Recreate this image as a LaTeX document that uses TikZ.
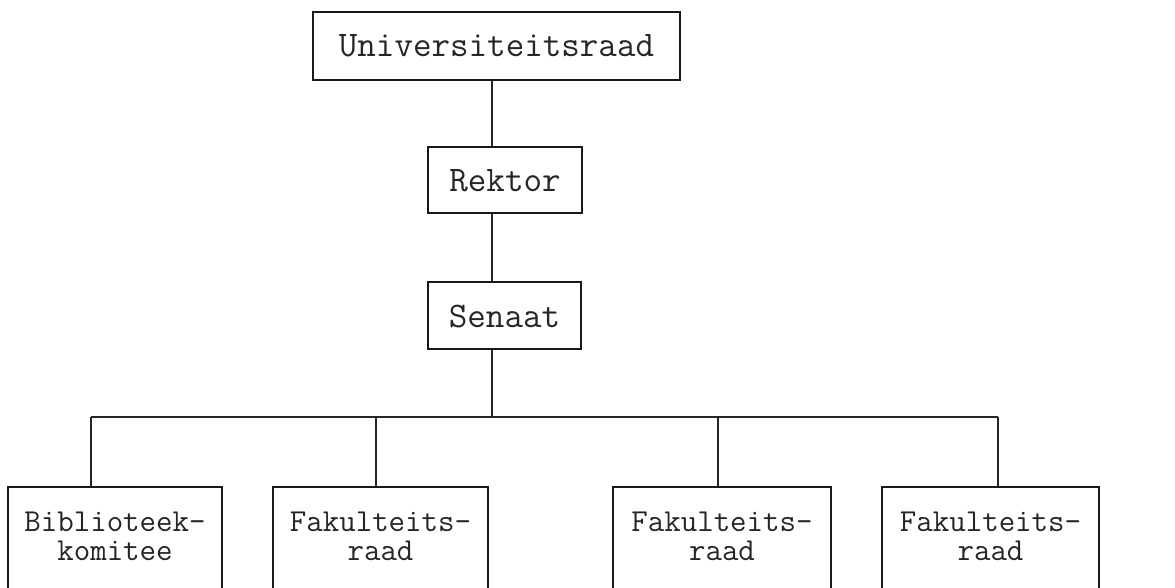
\documentclass[tikz,border=0pt]{standalone}
\usepackage{fontspec}
\setmonofont{Latin Modern Mono}
\begin{document}
\begin{tikzpicture}[x=1pt,y=1pt,
  orgbox/.style={draw=black!90, line width=2.2pt, rectangle, inner sep=0pt},
  link/.style={draw=black!85, line width=1.3pt},
  lbl/.style={font=\ttfamily\fontsize{36}{30}\selectfont, text=black!85, align=center, inner sep=0pt},
  lbls/.style={font=\ttfamily\fontsize{32}{29}\selectfont, text=black!85, align=center, inner sep=0pt}]
\useasboundingbox (0,0) rectangle (1175,588);
\clip (0,0) rectangle (1175,588);
% top boxes
\node[orgbox, minimum width=367pt, minimum height=68pt] (univ) at (496.5,542) {};
\node[lbl] (tu) at (univ.center) {Universiteitsraad};
\node[orgbox, minimum width=154pt, minimum height=66pt] (rektor) at (505,408) {};
\node[lbl] (tr) at ([yshift=-1pt]rektor.center) {Rektor};
\node[orgbox, minimum width=153pt, minimum height=67pt] (senaat) at (504.5,272.5) {};
\node[lbl] (ts) at ([yshift=-1pt]senaat.center) {Senaat};
% spine
\coordinate (spine) at (492,0);
\coordinate (barL) at (91,171);
\coordinate (barR) at (998,171);
\coordinate (barM) at (492,171);
% bottom boxes
\node[orgbox, minimum width=214pt, minimum height=120pt, anchor=north] (b1) at (115,102) {};
\node[orgbox, minimum width=215pt, minimum height=120pt, anchor=north] (b2) at (380.5,102) {};
\node[orgbox, minimum width=218pt, minimum height=120pt, anchor=north] (b3) at (722,102) {};
\node[orgbox, minimum width=217pt, minimum height=120pt, anchor=north] (b4) at (990.5,102) {};
\node[lbls, anchor=north, yshift=-26pt] (t1) at (b1.north) {Biblioteek-\\komitee};
\node[lbls, anchor=north, yshift=-26pt] (t2) at (b2.north) {Fakulteits-\\raad};
\node[lbls, anchor=north, yshift=-26pt] (t3) at (b3.north) {Fakulteits-\\raad};
\node[lbls, anchor=north, yshift=-26pt] (t4) at (b4.north) {Fakulteits-\\raad};
% connectors
\draw[link] (univ.south -| spine) -- (rektor.north -| spine);
\draw[link] (rektor.south -| spine) -- (senaat.north -| spine);
\draw[link] (senaat.south -| spine) -- (barM);
\draw[link] (barL) -- (barR);
\draw[link] (barL) -- (b1.north -| barL);
\draw[link] (barL -| 376,0) -- (b2.north -| 376,0);
\draw[link] (barL -| 718,0) -- (b3.north -| 718,0);
\draw[link] (barR) -- (b4.north -| barR);
\end{tikzpicture}
\end{document}
